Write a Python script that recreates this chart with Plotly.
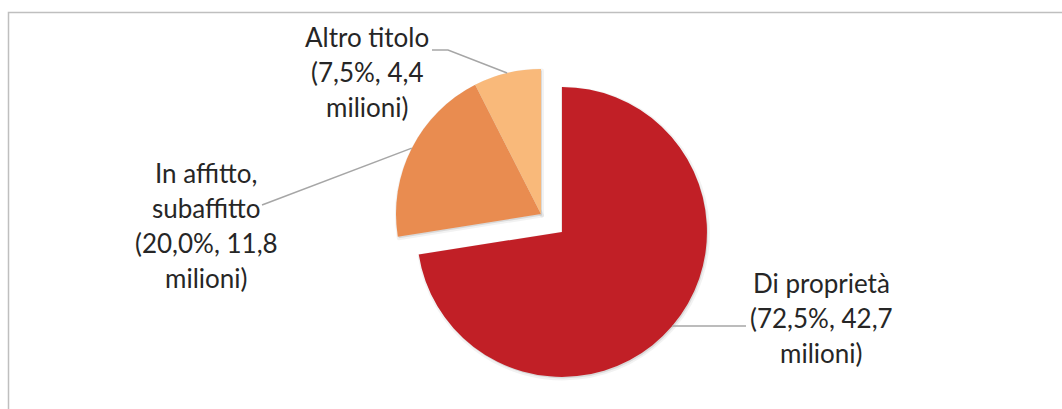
import math
import plotly.graph_objects as go

# Housing tenure of Italian families
labels = ["Di proprietà", "In affitto, subaffitto", "Altro titolo"]
label_heads = [["Di proprietà"], ["In affitto,", "subaffitto"], ["Altro titolo"]]
shares = [72.5, 20.0, 7.5]          # percent
millions = [42.7, 11.8, 4.4]        # people, millions
colors = ["#C11F26", "#E98C50", "#F9B97A"]
pulls = [0.19, 0.0, 0.0]

W, H = 1062, 409
CX, CY, R = 541, 214, 145           # pie centre / radius (px)
LINE_H = 35                         # label line height (px)
max_pull = max(pulls)
box = 2 * R * (1 + max_pull)        # side of the square the pie is fitted into


def px_x(x):
    return x / W


def px_y(y):
    return 1 - y / H


def fmt(v):
    return f"{v:.1f}".replace(".", ",")


def pie_domain(cx, cy):
    return dict(x=[px_x(cx - 300), px_x(cx + 300)],
                y=[px_y(cy + box / 2), px_y(cy - box / 2)])


common = dict(labels=labels, values=shares, sort=False, direction="clockwise",
              rotation=0, pull=pulls, textinfo="none", showlegend=False)

fig = go.Figure()
# soft drop shadow under the slices
fig.add_trace(go.Pie(
    **common,
    marker=dict(colors=["rgba(0,0,0,0.10)"] * 3,
                line=dict(color="rgba(0,0,0,0.05)", width=4)),
    domain=pie_domain(CX + 1, CY + 1.5),
    hoverinfo="skip",
))
fig.add_trace(go.Pie(
    **common,
    marker=dict(colors=colors, line=dict(width=0)),
    domain=pie_domain(CX, CY),
    hoverinfo="label+percent",
))

# outer edge point at the middle of each slice, used as leader line anchor
tips = []
cum = 0.0
for s, p in zip(shares, pulls):
    theta = math.radians(360 * (cum + s / 2) / sum(shares))
    ox = CX + p * R * math.sin(theta)
    oy = CY - p * R * math.cos(theta)
    tips.append((ox + R * math.sin(theta), oy - R * math.cos(theta)))
    cum += s

# label centres and leader paths (px)
label_pos = [(821, 318), (206, 225), (367, 72)]
leaders = [
    [tips[0], (746, tips[0][1])],
    [tips[1], (262, 205)],
    [tips[2], (448, 50), (432, 50)],
]

shapes = [dict(type="rect", xref="paper", yref="paper",
               x0=px_x(8.5), x1=px_x(1075), y0=px_y(430), y1=px_y(12.5),
               line=dict(color="#BFBFBF", width=1.5), layer="below")]
for pts in leaders:
    path = "M " + " L ".join(f"{px_x(x):.5f},{px_y(y):.5f}" for x, y in pts)
    shapes.append(dict(type="path", xref="paper", yref="paper", path=path,
                       line=dict(color="#A6A6A6", width=1.5)))

annotations = []
for head, s, m, (lx, ly) in zip(label_heads, shares, millions, label_pos):
    lines = head + [f"({fmt(s)}%, {fmt(m)}", "milioni)"]
    top = ly - LINE_H * (len(lines) - 1) / 2
    for i, line in enumerate(lines):
        annotations.append(dict(
            xref="paper", yref="paper", x=px_x(lx), y=px_y(top + i * LINE_H),
            xanchor="center", yanchor="middle", showarrow=False,
            text=line,
            font=dict(family="Lato", size=26, color="#262626"),
        ))

fig.update_layout(
    width=W, height=H,
    margin=dict(l=0, r=0, t=0, b=0),
    paper_bgcolor="white",
    plot_bgcolor="white",
    shapes=shapes,
    annotations=annotations,
)

fig.write_html("out.html")
